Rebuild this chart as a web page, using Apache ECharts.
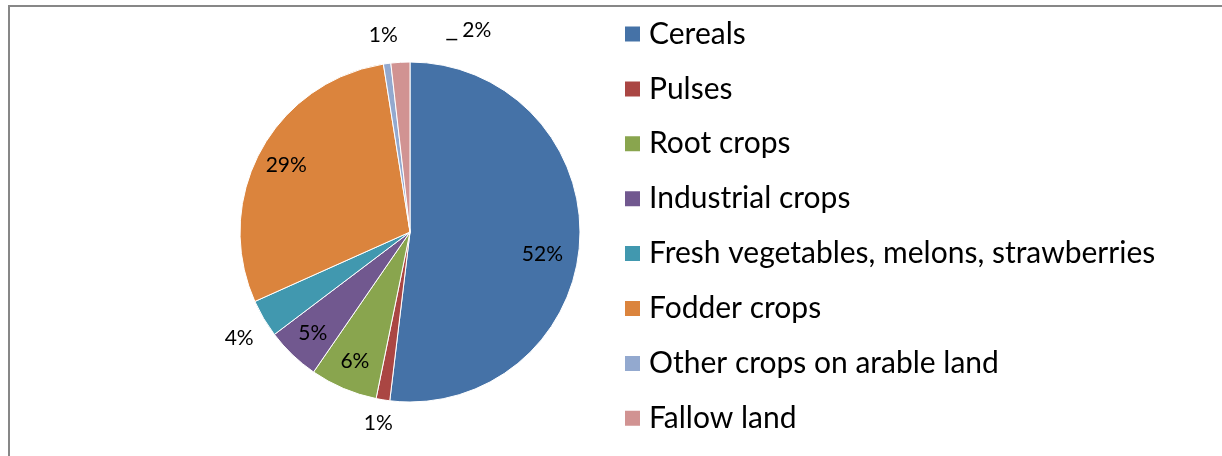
<!DOCTYPE html>
<html>
<head>
<meta charset="utf-8">
<script src="https://cdn.jsdelivr.net/npm/echarts@6/dist/echarts.min.js"></script>
<style>html,body{margin:0;padding:0;background:#fff}#c{width:1222px;height:456px}</style>
</head>
<body>
<div id="c"></div>
<script>
var categories = ['Cereals', 'Pulses', 'Root crops', 'Industrial crops', 'Fresh vegetables, melons, strawberries', 'Fodder crops', 'Other crops on arable land', 'Fallow land'];
var values = [51.9, 1.3, 6.4, 5.1, 3.6, 29.2, 0.7, 1.8];
var colors = ['#4572A7', '#AA4643', '#89A54E', '#71588F', '#4198AF', '#DB843D', '#93A9CF', '#D19392'];
var insideLabels = [0, 2, 3, 5];
var outsideLabels = [1, 4, 6, 7];

var R = 170, CX = 410, CY = 232;
var FONT = 'Lato';

function mainData() {
  return categories.map(function (n, i) {
    return { name: n, value: values[i], itemStyle: { color: colors[i] } };
  });
}
function ringData(showIdx) {
  return categories.map(function (n, i) {
    return { name: n, value: values[i], itemStyle: { color: 'rgba(0,0,0,0)', borderWidth: 0 },
      label: { show: showIdx.indexOf(i) >= 0 } };
  });
}

var chart = echarts.init(document.getElementById('c'));
chart.setOption({
  animation: false,
  graphic: [{
    type: 'rect', shape: { x: 9, y: 6, width: 1240, height: 480 },
    style: { fill: 'none', stroke: '#878787', lineWidth: 2 }, silent: true
  }],
  legend: {
    orient: 'vertical', left: 618, top: 14,
    data: categories,
    itemWidth: 17, itemHeight: 17, itemGap: 24.9,
    icon: 'rect',
    selectedMode: false,
    textStyle: { fontFamily: FONT, fontSize: 30, lineHeight: 30, color: '#000', padding: [0, 0, 0, 3] }
  },
  series: [
    {
      type: 'pie', center: [CX, CY], radius: R, startAngle: 90, clockwise: true,
      percentPrecision: 0, silent: true,
      itemStyle: { borderColor: '#fff', borderWidth: 1 },
      label: { show: false }, labelLine: { show: false },
      data: mainData()
    },
    {
      type: 'pie', center: [CX, CY], radius: [R * 0.62, R], startAngle: 90, clockwise: true,
      percentPrecision: 0, silent: true, legendHoverLink: false,
      label: { position: 'inside', formatter: '{d}%', color: '#000', fontFamily: FONT, fontSize: 21 },
      labelLine: { show: false },
      labelLayout: function (p) { if (p.dataIndex === 0) { return { dx: -8, dy: 14 }; } return {}; },
      data: ringData(insideLabels)
    },
    {
      type: 'pie', center: [CX, CY], radius: [R, R * 1.3], startAngle: 90, clockwise: true,
      percentPrecision: 0, silent: true, legendHoverLink: false,
      label: { position: 'inside',
        formatter: function (p) { return (p.dataIndex === 7 ? '{dash|}{gap|}' : '') + p.percent + '%'; },
        color: '#000', fontFamily: FONT, fontSize: 21,
        rich: {
          dash: { width: 11, height: 1.5, backgroundColor: '#000', verticalAlign: 'bottom', fontSize: 1 },
          gap: { width: 5, fontSize: 1 }
        } },
      labelLine: { show: false },
      labelLayout: function (p) {
        if (p.dataIndex === 7) { return { dx: 70, dy: -4 }; }
        if (p.dataIndex === 4) { return { dy: 5 }; }
        if (p.dataIndex === 1) { return { dy: -5 }; }
        return {};
      },
      data: ringData(outsideLabels)
    }
  ]
});
</script>
</body>
</html>
